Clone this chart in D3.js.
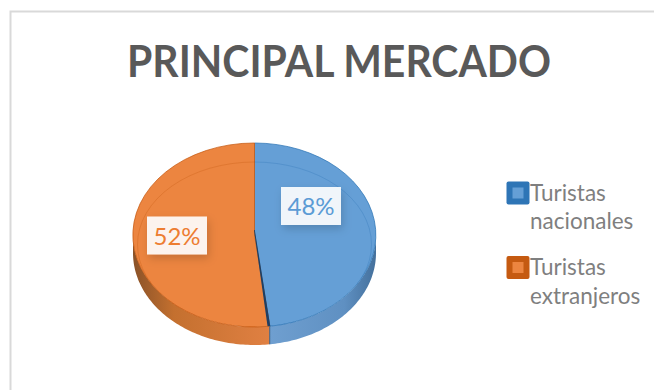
<!DOCTYPE html>
<html>
<head>
<meta charset="utf-8">
<script src="https://cdn.jsdelivr.net/npm/d3@7"></script>
<style>
html, body { margin: 0; padding: 0; background: #fff; }
svg { display: block; }
text { font-family: Lato, "Open Sans", sans-serif; }
</style>
</head>
<body>
<div id="chart"></div>
<script>
const categories = ["Turistas nacionales", "Turistas extranjeros"];
const values = [48, 52];
const faceColors = ["#659fd6", "#ec8540"];
const edgeColors = ["#2e75b6", "#c55a11"];
const labelColors = ["#5b9bd5", "#ed7d31"];
const titleText = "PRINCIPAL MERCADO";

const width = 654;
const height = 390;

const cx = 254.5;
const cy = 235;
const rx = 121.5;
const ry = 92;
const depth = 18;

const svg = d3.select("#chart")
    .append("svg")
    .attr("width", width)
    .attr("height", height);

const defs = svg.append("defs");

const shadow = defs.append("filter")
    .attr("id", "labelShadow")
    .attr("x", "-30%").attr("y", "-30%")
    .attr("width", "160%").attr("height", "170%");
shadow.append("feDropShadow")
    .attr("dx", 2).attr("dy", 4)
    .attr("stdDeviation", 4)
    .attr("flood-color", "#000")
    .attr("flood-opacity", 0.18);

/* ------------------------
   FRAME + TITLE
-------------------------*/
svg.append("path")
    .attr("d", d3.line()([[10.5, height], [10.5, 11.5], [width, 11.5]]))
    .attr("fill", "none")
    .attr("stroke", "#d9d9d9")
    .attr("stroke-width", 2);

svg.append("text")
    .attr("x", 339)
    .attr("y", 77)
    .attr("text-anchor", "middle")
    .attr("font-size", 44)
    .attr("font-weight", 700)
    .attr("fill", "#595959")
    .attr("textLength", 424)
    .attr("lengthAdjust", "spacingAndGlyphs")
    .text(titleText);

/* ------------------------
   PIE
-------------------------*/
const slices = d3.pie().sort(null)(values);

// unit circle squashed into an ellipse, so the arc generator can be reused
const unit = d3.arc().innerRadius(0).outerRadius(1);
const ellX = a => cx + rx * Math.sin(a);
const ellY = a => cy - ry * Math.cos(a);

// side wall, only the part of each slice on the front of the disc
const wall = d3.area()
    .x(a => ellX(a))
    .y0(a => ellY(a))
    .y1(a => ellY(a) + depth);

const wallStops = [
    [["0%", "#6f9fd0"], ["70%", "#5f90c2"], ["100%", "#44709c"]],
    [["0%", "#8a5228"], ["30%", "#c4702f"], ["100%", "#e08042"]]
];

slices.forEach((s, i) => {
    const grad = defs.append("linearGradient")
        .attr("id", "wall" + i)
        .attr("gradientUnits", "userSpaceOnUse")
        .attr("x1", i === 0 ? cx + 15 : cx - rx)
        .attr("x2", i === 0 ? cx + rx : cx + 15)
        .attr("y1", 0).attr("y2", 0);
    wallStops[i].forEach(st => {
        grad.append("stop").attr("offset", st[0]).attr("stop-color", st[1]);
    });

    const a0 = Math.max(s.startAngle, Math.PI / 2);
    const a1 = Math.min(s.endAngle, Math.PI * 1.5);
    const angles = d3.range(a0, a1, 0.02).concat([a1]);
    svg.append("path")
        .attr("d", wall(angles))
        .attr("fill", "url(#wall" + i + ")");
});

// seam on the wall where the slices meet
const seamAngle = slices[0].endAngle;
svg.append("path")
    .attr("d", d3.line()([[ellX(seamAngle), ellY(seamAngle)], [ellX(seamAngle), ellY(seamAngle) + depth]]))
    .attr("stroke", "#3b5f85")
    .attr("stroke-width", 1);

// top faces
svg.selectAll("path.face")
    .data(slices)
    .enter()
    .append("path")
    .attr("class", "face")
    .attr("d", unit)
    .attr("transform", `translate(${cx},${cy}) scale(${rx},${ry})`)
    .attr("fill", (d, i) => faceColors[i])
    .attr("stroke", (d, i) => edgeColors[i])
    .attr("stroke-opacity", 0.75)
    .attr("stroke-width", 1)
    .attr("vector-effect", "non-scaling-stroke");

// faint bevel line on each face
slices.forEach((s, i) => {
    const clipId = "faceClip" + i;
    defs.append("clipPath").attr("id", clipId)
        .append("path")
        .attr("d", unit(s))
        .attr("transform", `translate(${cx},${cy}) scale(${rx},${ry})`);
    svg.append("ellipse")
        .attr("clip-path", `url(#${clipId})`)
        .attr("cx", cx)
        .attr("cy", cy + 9.5)
        .attr("rx", rx - 4.5)
        .attr("ry", ry - 9.5)
        .attr("fill", "none")
        .attr("stroke", edgeColors[i])
        .attr("stroke-opacity", 0.3)
        .attr("stroke-width", 1);
});

// dark wedge between the two slices, thickening towards the rim
const sx = ellX(seamAngle);
const sy = ellY(seamAngle);
svg.append("path")
    .attr("d", d3.line()([[cx + 0.3, cy - 5], [sx + 0.6, sy], [sx - 2.2, sy], [cx - 0.5, cy - 5]]) + "Z")
    .attr("fill", "#1f3f63");

/* ------------------------
   DATA LABELS
-------------------------*/
const labelPos = [[311, 206], [177, 235.5]];
const labelBoxW = 60;
const labelBoxH = 38;

const labels = svg.selectAll("g.label")
    .data(slices)
    .enter()
    .append("g")
    .attr("class", "label")
    .attr("transform", (d, i) => `translate(${labelPos[i][0]},${labelPos[i][1]})`);

labels.append("rect")
    .attr("x", -labelBoxW / 2)
    .attr("y", -labelBoxH / 2)
    .attr("width", labelBoxW)
    .attr("height", labelBoxH)
    .attr("fill", "#fff")
    .attr("fill-opacity", 0.9)
    .attr("filter", "url(#labelShadow)");

labels.append("text")
    .attr("text-anchor", "middle")
    .attr("y", 9)
    .attr("font-size", 24)
    .attr("fill", (d, i) => labelColors[i])
    .text(d => d.value + "%");

/* ------------------------
   LEGEND
-------------------------*/
const legendY = d3.scalePoint().domain(categories).range([193, 267.5]);

const legend = svg.selectAll("g.legend")
    .data(categories)
    .enter()
    .append("g")
    .attr("class", "legend")
    .attr("transform", d => `translate(518,${legendY(d)})`);

legend.append("rect")
    .attr("x", -11.5).attr("y", -11.5)
    .attr("width", 23).attr("height", 23)
    .attr("rx", 2)
    .attr("fill", (d, i) => edgeColors[i]);

legend.append("rect")
    .attr("x", -5.5).attr("y", -5.5)
    .attr("width", 11).attr("height", 11)
    .attr("fill", (d, i) => faceColors[i]);

const legendText = legend.append("text")
    .attr("font-size", 22.5)
    .attr("fill", "#7f7f7f");

legendText.selectAll("tspan")
    .data(d => d.split(" "))
    .enter()
    .append("tspan")
    .attr("x", 12)
    .attr("y", (d, i) => 7.5 + i * 28.5)
    .text(d => d);
</script>
</body>
</html>
